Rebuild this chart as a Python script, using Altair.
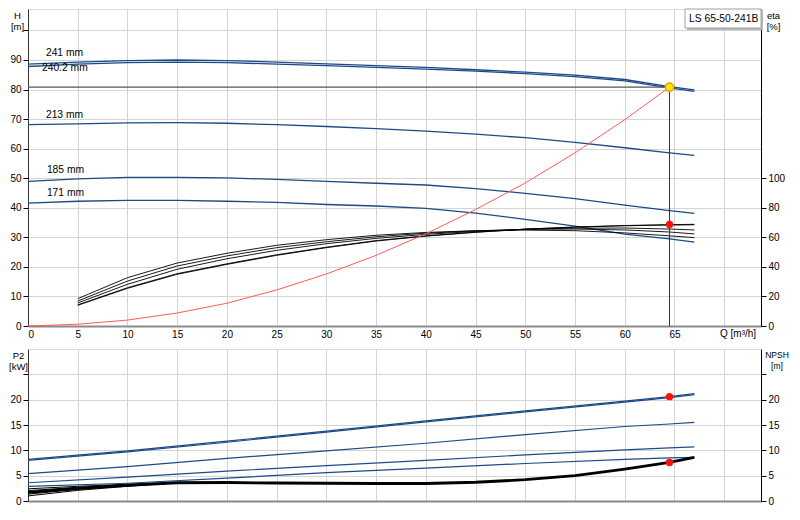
import altair as alt
import pandas as pd

FONT = "Liberation Sans"
FS = 10          # tick labels
FS_T = 9.5       # axis titles
FS_M = 10.3      # in-plot texts
BLUE = "#1a4b86"

# ---------------- data ----------------
impellers = ["241 mm", "240.2 mm", "213 mm", "185 mm", "171 mm"]

# Q-H curves
Q_H = [0, 5, 10, 15, 20, 25, 30, 35, 40, 45, 50, 55, 60, 64.5, 67]
H_241 = [88.6, 89.3, 89.8, 90.0, 89.8, 89.3, 88.7, 88.1, 87.5, 86.7, 85.9, 84.9, 83.4, 81.0, 79.9]
H_240 = [87.8, 88.6, 89.1, 89.3, 89.1, 88.6, 88.1, 87.5, 86.9, 86.2, 85.4, 84.4, 82.9, 80.6, 79.4]
H_213 = [68.1, 68.4, 68.7, 68.8, 68.6, 68.1, 67.5, 66.8, 65.9, 64.9, 63.7, 62.1, 60.3, 58.6, 57.7]
H_185 = [48.9, 49.8, 50.3, 50.3, 50.1, 49.6, 48.9, 48.3, 47.7, 46.5, 44.9, 43.1, 40.9, 39.0, 38.1]
H_171 = [41.6, 42.2, 42.5, 42.5, 42.2, 41.8, 41.1, 40.6, 39.8, 38.2, 36.1, 33.8, 31.1, 29.5, 28.4]

# curve labels
label_q = [1.8, 1.4, 1.8, 1.9, 1.9]
label_h = [92.5, 87.4, 71.5, 52.9, 45.0]

# efficiency curves [%]
Q_E = [5, 10, 15, 20, 25, 30, 35, 40, 45, 50, 55, 60, 64.5, 67]
E_241 = [14.0, 25.5, 35.0, 41.7, 47.8, 53.0, 57.5, 60.8, 63.4, 65.5, 67.0, 68.0, 68.6, 68.8]
E_240 = [14.3, 25.9, 35.4, 42.1, 48.2, 53.3, 57.8, 61.0, 63.5, 65.5, 66.9, 67.8, 68.3, 68.5]
E_213 = [15.6, 28.2, 38.4, 45.5, 51.2, 55.7, 59.3, 62.0, 64.0, 65.5, 66.2, 66.3, 65.6, 65.0]
E_185 = [16.9, 30.4, 40.6, 47.4, 53.0, 57.0, 60.4, 62.8, 64.4, 65.4, 65.6, 65.0, 63.6, 62.3]
E_171 = [18.5, 32.7, 42.6, 49.2, 54.6, 58.4, 61.4, 63.3, 64.5, 64.9, 64.5, 63.0, 61.0, 59.8]

# system curve
Q_S = [0, 5, 10, 15, 20, 25, 30, 35, 40, 45, 50, 55, 60, 64.5]
H_S = [0, 0.6, 2.0, 4.4, 7.7, 12.2, 17.6, 23.9, 31.2, 39.4, 48.4, 58.6, 69.8, 80.8]

# duty point
OP_Q = 64.5
OP_H = 80.8
OP_ETA = 68.7
OP_P2 = 20.6
OP_NPSH = 7.6

# P2 curves [kW]
Q_P = [0, 10, 20, 30, 40, 50, 60, 64.5, 67]
P_241 = [8.2, 9.9, 11.8, 13.8, 15.8, 17.8, 19.7, 20.6, 21.2]
P_240 = [8.0, 9.7, 11.6, 13.6, 15.6, 17.6, 19.5, 20.4, 21.0]
P_213 = [5.4, 6.8, 8.4, 9.9, 11.4, 13.1, 14.7, 15.2, 15.5]
P_185 = [3.6, 4.7, 5.9, 7.0, 8.0, 9.1, 10.1, 10.5, 10.7]
P_171 = [2.9, 3.5, 4.5, 5.6, 6.5, 7.4, 8.2, 8.5, 8.6]

# NPSH [m]
Q_N = [0, 5, 10, 15, 20, 25, 30, 35, 40, 45, 50, 55, 60, 64.5, 67]
N_MAIN = [1.7, 2.5, 3.1, 3.6, 3.65, 3.55, 3.5, 3.45, 3.45, 3.7, 4.2, 5.0, 6.3, 7.6, 8.6]
Q_NF = [0, 5, 10, 15]
N_F1 = [2.4, 2.9, 3.3, 3.65]
N_F2 = [2.05, 2.7, 3.2, 3.62]
N_F4 = [1.35, 2.3, 3.0, 3.6]
N_F5 = [1.0, 2.1, 2.9, 3.6]

Q_TICKS = [0, 5, 10, 15, 20, 25, 30, 35, 40, 45, 50, 55, 60, 65, 70]
H_TICKS = [0, 10, 20, 30, 40, 50, 60, 70, 80, 90, 100]
ETA_TICKS = [0, 20, 40, 60, 80, 100]
P_TICKS = [0, 5, 10, 15, 20, 25]

PRODUCT = "LS 65-50-241B"
Q_TITLE = "Q [m³/h]"


def long_frame(qs, series, names, col):
    rows = []
    for name, vals in zip(names, series):
        for q, v in zip(qs, vals):
            rows.append({"Q": q, col: v, "curve": name})
    return pd.DataFrame(rows)


df_h = long_frame(Q_H, [H_241, H_240, H_213, H_185, H_171], impellers, "H")
df_e = long_frame(Q_E, [E_241, E_240, E_213, E_185, E_171], impellers, "eta")
df_s = pd.DataFrame({"Q": Q_S, "H": H_S})
df_lab = pd.DataFrame({"Q": label_q, "H": label_h, "t": impellers})
df_op = pd.DataFrame({"Q": [OP_Q], "Q0": [0], "H": [OP_H], "H0": [0], "eta": [OP_ETA],
                      "P2": [OP_P2], "NPSH": [OP_NPSH]})
df_p = long_frame(Q_P, [P_241, P_240, P_213, P_185, P_171], impellers, "P2")
df_nf = long_frame(Q_NF, [N_F1, N_F2, N_F4, N_F5], ["a", "b", "c", "d"], "NPSH")
df_n = pd.DataFrame({"Q": Q_N, "NPSH": N_MAIN})

W = 733
H_TOP = 317
H_BOT = 152

qscale = alt.Scale(domain=[0, 73.7], nice=False, zero=False)
hscale = alt.Scale(domain=[0, 107.25], nice=False)
escale = alt.Scale(domain=[0, 214.5], nice=False)
pscale = alt.Scale(domain=[0, 30], nice=False)

GRID = "#d4d4d4"
TITLE_STYLE = dict(titleAngle=0, titleAlign="center", titleBaseline="top", titleY=1,
                   titleLineHeight=11, titleFontWeight="normal", titleFont=FONT,
                   titleColor="#000")

x_top = alt.X("Q:Q", scale=qscale,
              axis=alt.Axis(values=Q_TICKS, labelExpr="datum.value >= 70 ? '' : datum.label",
                            ticks=False, domainColor="#8a8a8a", domainWidth=2,
                            grid=True, gridColor=GRID, title=None, labelPadding=3))
x_bot = alt.X("Q:Q", scale=qscale,
              axis=alt.Axis(values=Q_TICKS, labels=False, ticks=False,
                            domainColor="#8a8a8a", domainWidth=2,
                            grid=True, gridColor=GRID, title=None))

h_axis = alt.Axis(values=H_TICKS, labelExpr="datum.value > 90 ? '' : datum.label",
                  grid=True, gridColor=GRID, tickSize=5, tickColor="#000",
                  domainColor="#333", title=["H", "[m]"], titleX=-11, titleFontSize=FS_T,
                  labelPadding=2, **TITLE_STYLE)
eta_axis = alt.Axis(orient="right", values=ETA_TICKS, grid=False, tickSize=5,
                    tickColor="#000", domainColor="#000", title=["eta", "[%]"],
                    titleX=12, titleFontSize=FS_T, labelPadding=2, **TITLE_STYLE)

h_lines = alt.Chart(df_h).mark_line(color=BLUE, strokeWidth=1.3).encode(
    x=x_top, y=alt.Y("H:Q", scale=hscale, axis=h_axis), detail="curve:N")

sys_line = alt.Chart(df_s).mark_line(color="#ff5a5a", strokeWidth=1).encode(
    x=x_top, y=alt.Y("H:Q", scale=hscale, axis=None))

labels = alt.Chart(df_lab).mark_text(align="left", baseline="middle", font=FONT,
                                     fontSize=FS_M, color="#000").encode(
    x=x_top, y=alt.Y("H:Q", scale=hscale, axis=None), text="t:N")

op_h = alt.Chart(df_op).mark_rule(color="#555", strokeWidth=1.2).encode(
    x=x_top, x2="Q0:Q", y=alt.Y("H:Q", scale=hscale, axis=None))
op_v = alt.Chart(df_op).mark_rule(color="#333", strokeWidth=1).encode(
    x=x_top, y=alt.Y("H:Q", scale=hscale, axis=None), y2="H0:Q")

e_lines = alt.Chart(df_e).mark_line(color="#000", strokeWidth=0.9).encode(
    x=x_top, y=alt.Y("eta:Q", scale=escale, axis=eta_axis), detail="curve:N")

op_pt = alt.Chart(df_op).mark_point(filled=True, fill="#ffe600", stroke="#f0a000",
                                    strokeWidth=1.5, size=70, opacity=1).encode(
    x=x_top, y=alt.Y("H:Q", scale=hscale, axis=None))
eta_pt = alt.Chart(df_op).mark_circle(color="#ff1010", size=55, opacity=1).encode(
    x=x_top, y=alt.Y("eta:Q", scale=escale, axis=None))

box_shadow = alt.Chart(df_op).mark_rect(fill="#b8b8b8").encode(
    x=alt.value(659), x2=alt.value(735), y=alt.value(1), y2=alt.value(21))
box = alt.Chart(df_op).mark_rect(fill="#ffffff", stroke="#a0a0a0", strokeWidth=1).encode(
    x=alt.value(657), x2=alt.value(733), y=alt.value(0), y2=alt.value(19))
box_text = alt.Chart(df_op).mark_text(align="left", baseline="middle", font=FONT,
                                      fontSize=FS_M, color="#000").encode(
    x=alt.value(661), y=alt.value(10), text=alt.value(PRODUCT))
q_title = alt.Chart(df_op).mark_text(align="left", baseline="top", font=FONT,
                                     fontSize=FS, color="#000").encode(
    x=alt.value(692), y=alt.value(H_TOP + 3), text=alt.value(Q_TITLE))

top = alt.layer(
    h_lines, e_lines, sys_line, labels, op_h, op_v, op_pt, eta_pt,
    box_shadow, box, box_text, q_title
).resolve_scale(y="independent").properties(width=W, height=H_TOP)

# ---------------- bottom panel ----------------
p_axis = alt.Axis(values=P_TICKS, labelExpr="datum.value > 20 ? '' : datum.label",
                  grid=True, gridColor=GRID, tickSize=5, tickColor="#000",
                  domainColor="#333", title=["P2", "[kW]"], titleX=-10, titleFontSize=FS_T,
                  labelPadding=2, **TITLE_STYLE)
n_axis = alt.Axis(orient="right", values=P_TICKS, labelExpr="datum.value > 20 ? '' : datum.label",
                  grid=False, tickSize=5, tickColor="#000", domainColor="#000",
                  title=["NPSH", "[m]"], titleX=15.5, titleFontSize=8.5, labelPadding=2,
                  **TITLE_STYLE)

p_lines = alt.Chart(df_p).mark_line(color=BLUE, strokeWidth=1.2).encode(
    x=x_bot, y=alt.Y("P2:Q", scale=pscale, axis=p_axis), detail="curve:N")
n_fan = alt.Chart(df_nf).mark_line(color="#000", strokeWidth=1).encode(
    x=x_bot, y=alt.Y("NPSH:Q", scale=pscale, axis=None), detail="curve:N")
n_main = alt.Chart(df_n).mark_line(color="#000", strokeWidth=2.8).encode(
    x=x_bot, y=alt.Y("NPSH:Q", scale=pscale, axis=n_axis))
p_pt = alt.Chart(df_op).mark_circle(color="#ff1010", size=55, opacity=1).encode(
    x=x_bot, y=alt.Y("P2:Q", scale=pscale, axis=None))
n_pt = alt.Chart(df_op).mark_circle(color="#ff1010", size=55, opacity=1).encode(
    x=x_bot, y=alt.Y("NPSH:Q", scale=pscale, axis=None))

bottom = alt.layer(p_lines, n_fan, n_main, p_pt, n_pt).resolve_scale(
    y="independent").properties(width=W, height=H_BOT)

chart = alt.vconcat(top, bottom, spacing=8).properties(
    padding={"left": 0, "top": 0, "right": 0, "bottom": 0}
).configure_view(stroke="#9a9a9a").configure_axis(
    labelFont=FONT, labelFontSize=FS, titleFont=FONT,
    labelColor="#000", titleColor="#000", titleFontWeight="normal"
).configure(background="#ffffff")

chart.save("out.html", embed_options={"renderer": "svg", "actions": False})
